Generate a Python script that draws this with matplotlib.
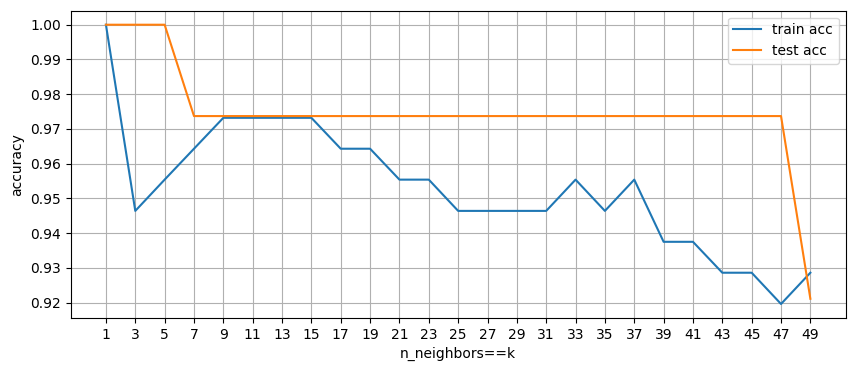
import matplotlib
matplotlib.use("Agg")
import matplotlib.pyplot as plt

# ---- data ----
k_values = list(range(1, 50, 2))
train_acc = [1.0, 0.9464, 0.9554, 0.9643, 0.9732, 0.9732, 0.9732, 0.9732,
             0.9643, 0.9643, 0.9554, 0.9554, 0.9464, 0.9464, 0.9464, 0.9464,
             0.9554, 0.9464, 0.9554, 0.9375, 0.9375, 0.9286, 0.9286, 0.9196,
             0.9286]
test_acc = [1.0, 1.0, 1.0] + [0.9737] * 21 + [0.9211]

# ---- plot ----
fig = plt.figure(figsize=(8.55, 3.71), dpi=100)
plt.subplots_adjust(left=0.0827, right=0.989, top=0.971, bottom=0.143)
plt.plot(k_values, train_acc, label="train acc")
plt.plot(k_values, test_acc, label="test acc")
plt.xticks(k_values)
plt.gca().yaxis.set_major_formatter(matplotlib.ticker.FormatStrFormatter("%.2f"))
plt.xlabel("n_neighbors==k")
plt.ylabel("accuracy")
plt.grid(True)
plt.legend(loc="upper right")
plt.savefig("out.png")
